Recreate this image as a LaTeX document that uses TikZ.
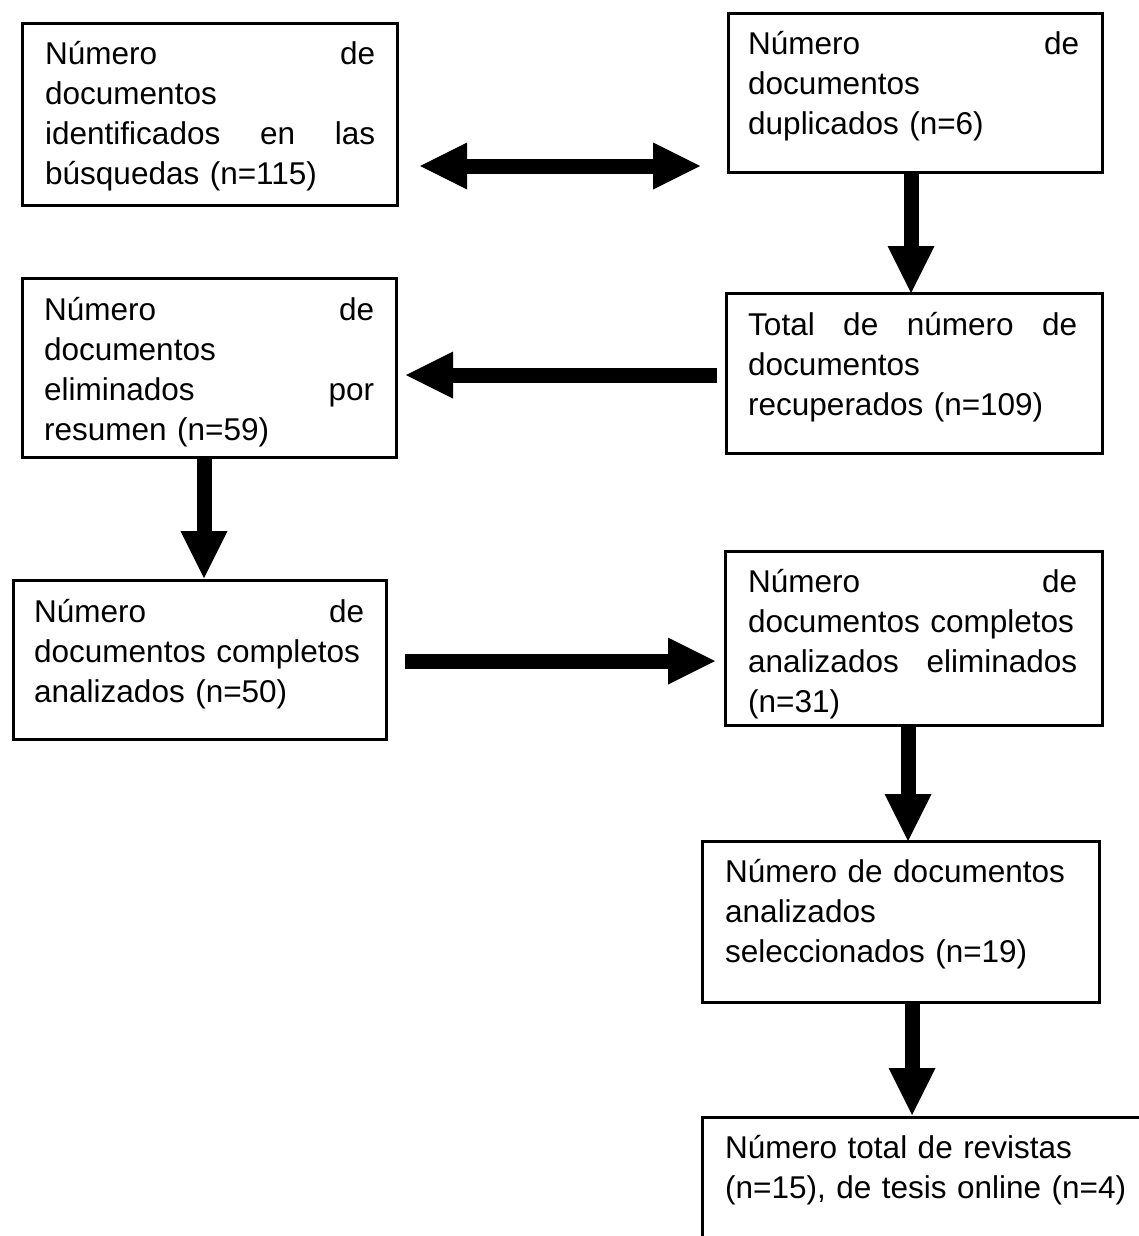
\documentclass[tikz,border=0pt]{standalone}
\usepackage{fontspec}
\setmainfont{Liberation Sans}
\usepackage{tikz}
\usetikzlibrary{positioning,arrows.meta}

\begin{document}
\begin{tikzpicture}[
    x = 1pt,
    y = -1pt,
    > = {Triangle[length=47pt, width=47pt, line width=0pt]},
    box/.style={rectangle, draw, line width=3pt, inner sep=0pt, outer sep=0pt},
    txt/.style={inner sep=0pt, align=left, font=\fontsize{31.5}{40}\selectfont},
    flow/.style={line width=15pt}
]
\useasboundingbox (0,0) rectangle (1139,1236);
\clip (0,0) rectangle (1139,1236);

% Boxes
\node[box, minimum width=375pt, minimum height=181pt] (ident) at (209.5,114.5) {};
\node[box, minimum width=374pt, minimum height=158pt] (dup) at (915,93) {};
\node[box, minimum width=376pt, minimum height=160pt] (recup) at (914,373) {};
\node[box, minimum width=374pt, minimum height=179pt] (resumen) at (209,367.5) {};
\node[box, minimum width=373pt, minimum height=159pt] (compl) at (199.5,659.5) {};
\node[box, minimum width=377pt, minimum height=174pt] (elim) at (913.5,638) {};
\node[box, minimum width=397pt, minimum height=161pt] (selec) at (900.5,921.5) {};
\node[box, minimum width=460pt, minimum height=200pt] (final) at (932,1217) {};

% Texts
\node[txt, text width=330pt, below right=41pt and 23pt of ident.north west, anchor=base west] (identtxt)
    {Número \hfill de\\documentos\\identificados \hfill en \hfill las\\búsquedas (n=115)};
\node[txt, text width=331pt, below right=41pt and 20pt of dup.north west, anchor=base west] (duptxt)
    {Número \hfill de\\documentos\\duplicados (n=6)};
\node[txt, text width=329pt, below right=42pt and 22pt of recup.north west, anchor=base west] (recuptxt)
    {Total \hfill de \hfill número \hfill de\\documentos\\recuperados (n=109)};
\node[txt, text width=330pt, below right=42pt and 22pt of resumen.north west, anchor=base west] (resumentxt)
    {Número \hfill de\\documentos\\eliminados \hfill por\\resumen (n=59)};
\node[txt, text width=330pt, below right=42pt and 21pt of compl.north west, anchor=base west] (compltxt)
    {Número \hfill de\\documentos completos\\analizados (n=50)};
\node[txt, text width=329pt, below right=41pt and 23pt of elim.north west, anchor=base west] (elimtxt)
    {Número \hfill de\\documentos completos\\analizados \hfill eliminados\\(n=31)};
\node[txt, text width=370pt, below right=41pt and 23pt of selec.north west, anchor=base west] (selectxt)
    {Número de documentos\\analizados\\seleccionados (n=19)};
\node[txt, text width=420pt, below right=41pt and 23pt of final.north west, anchor=base west] (finaltxt)
    {Número total de revistas\\(n=15), de tesis online (n=4)};

% Arrows
\draw[flow, <->, shorten <=23pt, shorten >=28pt] (ident.east |- 0,166) -- (dup.west |- 0,166);
\draw[flow, ->] (dup.south -| 911,0) -- (recup.north -| 911,0);
\draw[flow, ->, shorten <=9pt, shorten >=10pt] (recup.west |- 0,375) -- (resumen.east |- 0,375);
\draw[flow, ->, shorten >=2pt] (resumen.south -| 204,0) -- (compl.north -| 204,0);
\draw[flow, ->, shorten <=19pt, shorten >=10pt] (compl.east |- 0,661) -- (elim.west |- 0,661);
\draw[flow, ->] (elim.south -| 908,0) -- (selec.north -| 908,0);
\draw[flow, ->, shorten >=2pt] (selec.south -| 912,0) -- (final.north -| 912,0);

\end{tikzpicture}
\end{document}
